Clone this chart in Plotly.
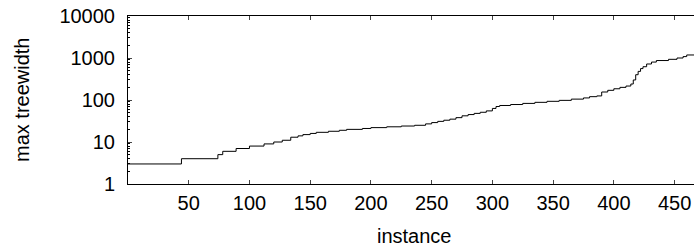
import plotly.graph_objects as go

# run starts (instance index) and max treewidth value of each run
run_start = [0, 44, 74, 78, 89, 100, 112, 120, 127, 134, 140, 144, 150, 155, 165,
             174, 180, 193, 200, 213, 225, 236, 245, 250, 255, 260, 265, 270, 275,
             280, 285, 290, 295, 300, 303, 306, 315, 325, 335, 345, 355, 365, 375,
             380, 386, 390, 395, 400, 405, 410, 414, 416, 418, 420, 422, 424, 427,
             431, 435, 445, 452, 457, 460]
treewidth = [3, 4, 5, 6, 7, 8, 9, 10, 11, 13, 14, 15, 16, 17, 18,
             19, 20, 21, 22, 23, 24, 25, 27, 29, 31, 33, 35, 38, 42,
             45, 48, 51, 55, 63, 70, 74, 78, 83, 88, 93, 98, 105, 112,
             120, 125, 155, 170, 185, 200, 215, 240, 300, 400, 480, 560, 620, 720,
             800, 870, 930, 1000, 1080, 1180]
last_instance = 466

x_ticks = [50, 100, 150, 200, 250, 300, 350, 400, 450]
y_ticks = [1, 10, 100, 1000, 10000]
y_labels = ["1", "10", "100", "1000", "10000"]

xs = run_start + [last_instance]
ys = treewidth + [treewidth[-1]]

minor_vals = [m * 10 ** k for k in range(4) for m in range(2, 10)]

fig = go.Figure()
fig.add_trace(go.Scatter(x=xs, y=ys, mode="lines", line=dict(color="black", width=1, shape="hv"),
                         showlegend=False, hoverinfo="skip"))

font = dict(family="Liberation Sans, Arial, sans-serif", size=20, color="black")

fig.update_layout(
    width=694, height=250,
    margin=dict(l=128, r=0, t=16, b=66),
    paper_bgcolor="white", plot_bgcolor="white",
    font=font,
    xaxis=dict(range=[0, last_instance], tickvals=x_ticks, ticks="inside", ticklen=4,
               showline=True, linecolor="black", linewidth=1, mirror="ticks",
               showgrid=False, zeroline=False, tickfont=font, ticklabelstandoff=1),
    yaxis=dict(type="log", range=[0, 4], tickvals=y_ticks, ticktext=y_labels,
               ticks="inside", ticklen=4, showline=True, linecolor="black", linewidth=1,
               mirror=False, showgrid=False, zeroline=False, tickfont=font,
               ticklabelstandoff=8,
               minor=dict(ticks="inside", ticklen=2, tickvals=minor_vals, showgrid=False,
                          tickcolor="black")),
    annotations=[
        dict(text="instance", xref="paper", yref="paper", x=0.507, y=0, yshift=-65,
             showarrow=False, font=font, xanchor="center", yanchor="bottom"),
        dict(text="max treewidth", xref="paper", yref="paper", x=0, xshift=-106, y=0.5,
             showarrow=False, font=font, textangle=-90, xanchor="center", yanchor="middle"),
    ],
)

fig.write_html("out.html", config={"displayModeBar": False},
               post_script="document.body.style.margin='0';document.body.style.padding='0';"
                           "document.body.style.overflow='hidden';")
